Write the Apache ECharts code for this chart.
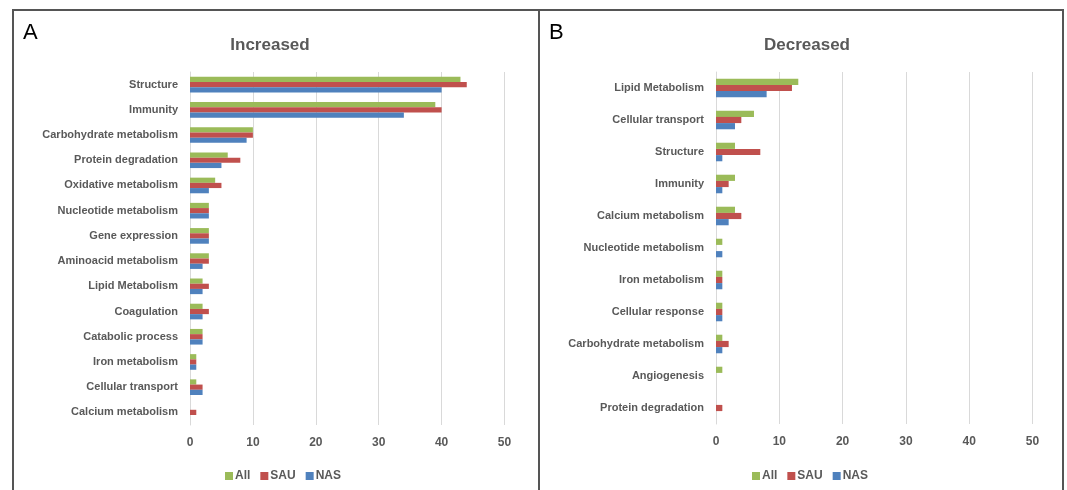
<!DOCTYPE html>
<html>
<head>
<meta charset="utf-8">
<script src="https://cdn.jsdelivr.net/npm/echarts@6/dist/echarts.min.js"></script>
<style>html,body{margin:0;padding:0;background:#fff}#c{width:1067px;height:490px}</style>
</head>
<body>
<div id="c"></div>
<script>
// Panel A: Increased
const incCategories = ['Structure','Immunity','Carbohydrate metabolism','Protein degradation','Oxidative metabolism','Nucleotide metabolism','Gene expression','Aminoacid metabolism','Lipid Metabolism','Coagulation','Catabolic process','Iron metabolism','Cellular transport','Calcium metabolism'];
const incAll = [43,39,10,6,4,3,3,3,2,2,2,1,1,0];
const incSAU = [44,40,10,8,5,3,3,3,3,3,2,1,2,1];
const incNAS = [40,34,9,5,3,3,3,2,2,2,2,1,2,0];
// Panel B: Decreased
const decCategories = ['Lipid Metabolism','Cellular transport','Structure','Immunity','Calcium metabolism','Nucleotide metabolism','Iron metabolism','Cellular response','Carbohydrate metabolism','Angiogenesis','Protein degradation'];
const decAll = [13,6,3,3,3,1,1,1,1,1,0];
const decSAU = [12,4,7,2,4,0,1,1,2,0,1];
const decNAS = [8,3,1,1,2,1,1,1,1,0,0];
const xTicks = [0,10,20,30,40,50];
const seriesNames = ['All','SAU','NAS'];

const colors = ['#9bbb59','#c0504d','#4f81bd'];
const FONT = "'Liberation Sans',sans-serif";
const gray = '#595959';

function xAxis(gi){
  return {type:'value', gridIndex:gi, min:xTicks[0], max:xTicks[xTicks.length-1], interval:10,
    axisLine:{show:false}, axisTick:{show:false},
    axisLabel:{color:gray, fontFamily:FONT, fontWeight:'bold', fontSize:12, margin:12},
    splitLine:{lineStyle:{color:'#d9d9d9', width:1}}};
}
function yAxis(gi, cats){
  return {type:'category', gridIndex:gi, data:cats, inverse:true,
    axisLine:{show:true, lineStyle:{color:'#d9d9d9'}}, axisTick:{show:false},
    axisLabel:{color:gray, fontFamily:FONT, fontWeight:'bold', fontSize:11, margin:12}};
}
function bars(gi, arrs, gap){
  return arrs.map((d,i)=>({name:seriesNames[i], type:'bar', xAxisIndex:gi, yAxisIndex:gi, data:d,
    barGap:'0%', barCategoryGap:gap, itemStyle:{color:colors[i]}, animation:false}));
}
const chart = echarts.init(document.getElementById('c'));
chart.setOption({
  animation:false,
  color:colors,
  title:[
    {text:'Increased', left:265, top:32, textAlign:'center', textStyle:{color:gray, fontFamily:FONT, fontWeight:'bold', fontSize:17}},
    {text:'Decreased', left:802, top:32, textAlign:'center', textStyle:{color:gray, fontFamily:FONT, fontWeight:'bold', fontSize:17}}
  ],
  legend:[
    {data:seriesNames, left:220, top:465, itemWidth:8, itemHeight:8, itemGap:10, icon:'rect',
      textStyle:{color:gray, fontFamily:FONT, fontWeight:'bold', fontSize:12, padding:[0,0,0,-3]}},
    {data:seriesNames, left:747, top:465, itemWidth:8, itemHeight:8, itemGap:10, icon:'rect',
      textStyle:{color:gray, fontFamily:FONT, fontWeight:'bold', fontSize:12, padding:[0,0,0,-3]}}
  ],
  grid:[
    {left:190, top:72, width:314.5, height:353},
    {left:716, top:72, width:316.5, height:352}
  ],
  xAxis:[xAxis(0), xAxis(1)],
  yAxis:[yAxis(0, incCategories), yAxis(1, decCategories)],
  series:[...bars(0,[incAll,incSAU,incNAS],'38%'), ...bars(1,[decAll,decSAU,decNAS],'42%')],
  graphic:[
    {type:'rect', shape:{x:13, y:10, width:1050, height:500}, style:{fill:'none', stroke:'#555', lineWidth:2}, silent:true},
    {type:'line', shape:{x1:539, y1:10, x2:539, y2:490}, style:{stroke:'#555', lineWidth:2}, silent:true},
    {type:'text', left:23, top:22, style:{text:'A', font:"22px 'Liberation Sans', sans-serif", fill:'#000'}},
    {type:'text', left:549, top:22, style:{text:'B', font:"22px 'Liberation Sans', sans-serif", fill:'#000'}}
  ]
});
</script>
</body>
</html>
